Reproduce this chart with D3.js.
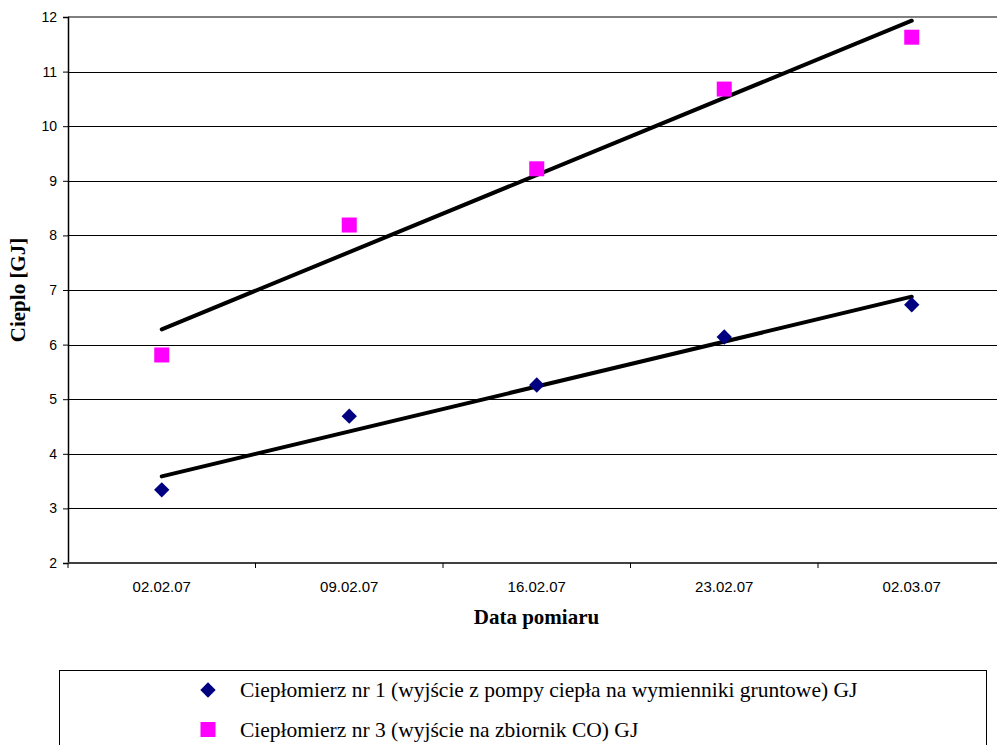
<!DOCTYPE html>
<html><head><meta charset="utf-8">
<script src="https://cdn.jsdelivr.net/npm/d3@7"></script>
<style>body{margin:0;background:#fff}svg{display:block}</style>
</head><body>
<svg id="c" width="997" height="745"></svg>
<script>
const categories = ["02.02.07","09.02.07","16.02.07","23.02.07","02.03.07"];
const series1 = [3.34, 4.69, 5.26, 6.14, 6.73];
const series3 = [5.81, 8.19, 9.22, 10.68, 11.63];
const yTicks = [2,3,4,5,6,7,8,9,10,11,12];
const name1 = "Ciepłomierz nr 1 (wyjście z pompy ciepła na wymienniki gruntowe) GJ";
const name3 = "Ciepłomierz nr 3 (wyjście na zbiornik CO) GJ";
const yTitle = "Cieplo [GJ]";
const xTitle = "Data pomiaru";

const sansF = "'Liberation Sans', Arial, sans-serif";
const serifF = "'Liberation Serif', 'Times New Roman', serif";
const svg = d3.select("#c");
const pLeft = 68, pTop = 17, pBottom = 563, band = 187.5;
const pRight = pLeft + band * categories.length;
const x = d3.scaleBand().domain(categories).range([pLeft, pRight]);
const y = d3.scaleLinear().domain([2, 12]).range([pBottom, pTop]);

// gridlines
svg.append("g").selectAll("line").data(yTicks.filter(d => d > 2 && d < 12)).join("line")
  .attr("x1", pLeft).attr("x2", pRight)
  .attr("y1", d => Math.round(y(d)) + 0.5).attr("y2", d => Math.round(y(d)) + 0.5)
  .attr("stroke", "#000").attr("stroke-width", 1);
// plot border top
svg.append("line").attr("x1", pLeft).attr("x2", pRight).attr("y1", pTop).attr("y2", pTop)
  .attr("stroke", "#808080").attr("stroke-width", 2);

// y axis
const ya = svg.append("g").attr("transform", `translate(${pLeft},0)`)
  .call(d3.axisLeft(y).tickValues(yTicks).tickSize(5).tickPadding(6).tickFormat(d3.format("d")));
ya.select(".domain").attr("stroke", "#000").attr("stroke-width", 1.5);
ya.selectAll(".tick line").attr("stroke", "#000");
ya.selectAll("text").style("font-family", sansF).style("font-size", "14px").attr("fill", "#000");

// x axis
const xa = svg.append("g").attr("transform", `translate(0,${pBottom})`)
  .call(d3.axisBottom(x).tickSize(0).tickPadding(18));
xa.select(".domain").remove();
xa.selectAll("text").style("font-family", sansF).style("font-size", "15px").attr("fill", "#000");
svg.append("line").attr("x1", pLeft).attr("x2", pRight).attr("y1", pBottom).attr("y2", pBottom)
  .attr("stroke", "#404040").attr("stroke-width", 2);
svg.append("g").selectAll("line").data(d3.range(categories.length + 1)).join("line")
  .attr("x1", i => pLeft + i * x.step()).attr("x2", i => pLeft + i * x.step())
  .attr("y1", pBottom).attr("y2", pBottom + 5).attr("stroke", "#000").attr("stroke-width", 1);

// trendlines (least squares over category index)
function trend(vals) {
  const n = vals.length, xs = d3.range(1, n + 1);
  const mx = d3.mean(xs), my = d3.mean(vals);
  const slope = d3.sum(xs, (xi, i) => (xi - mx) * (vals[i] - my)) / d3.sum(xs, xi => (xi - mx) ** 2);
  const b = my - slope * mx;
  return [[categories[0], b + slope * 1], [categories[n - 1], b + slope * n]];
}
const cx = c => x(c) + x.bandwidth() / 2;
const line = d3.line().x(d => cx(d[0])).y(d => y(d[1]));
[series1, series3].forEach(s => {
  svg.append("path").attr("d", line(trend(s))).attr("fill", "none")
    .attr("stroke", "#000").attr("stroke-width", 4).attr("stroke-linecap", "round");
});

// markers
const diamond = d3.symbol().type(d3.symbolDiamond2).size(150);
svg.append("g").selectAll("path").data(series1).join("path")
  .attr("d", diamond).attr("transform", (d, i) => `translate(${cx(categories[i])},${y(d)})`)
  .attr("fill", "#000080");
svg.append("g").selectAll("rect").data(series3).join("rect")
  .attr("x", (d, i) => cx(categories[i]) - 7.5).attr("y", d => y(d) - 7.5)
  .attr("width", 15).attr("height", 15).attr("fill", "#ff00ff");

// titles
svg.append("text").attr("x", (pLeft + 1005) / 2).attr("y", 624).attr("text-anchor", "middle")
  .style("font-family", serifF).style("font-weight", "bold").style("font-size", "21px").text(xTitle);
svg.append("text").attr("transform", "translate(25,290) rotate(-90)").attr("text-anchor", "middle")
  .style("font-family", serifF).style("font-weight", "bold").style("font-size", "21px").text(yTitle);

// legend
svg.append("rect").attr("x", 59.5).attr("y", 670.5).attr("width", 927).attr("height", 100)
  .attr("fill", "#fff").attr("stroke", "#000").attr("stroke-width", 1);
svg.append("path").attr("d", diamond).attr("transform", "translate(208,690)").attr("fill", "#000080");
svg.append("rect").attr("x", 200.5).attr("y", 722).attr("width", 15).attr("height", 15).attr("fill", "#ff00ff");
svg.append("text").attr("x", 240).attr("y", 697).style("font-family", serifF).style("font-size", "21.5px").text(name1);
svg.append("text").attr("x", 240).attr("y", 737).style("font-family", serifF).style("font-size", "21.5px").text(name3);
</script>
</body></html>
